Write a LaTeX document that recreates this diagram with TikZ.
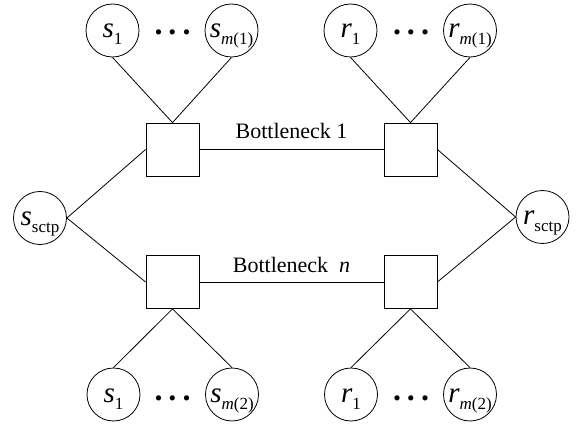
\documentclass[tikz,border=0pt]{standalone}
\usepackage{fontspec}
\setmainfont{Liberation Serif}
% host label: italic letter with an upright, lowered subscript
\newcommand\hostlbl[2]{\fontsize{29}{29}\selectfont\textit{#1}\raisebox{-7pt}{\fontsize{17}{17}\selectfont #2}}
% spaced ellipsis between hosts
\newcommand\hostdots{.\hspace{6pt}.\hspace{6pt}.}
\begin{document}
\begin{tikzpicture}[x=1pt,y=-1pt,
  host/.style={circle,draw,line width=0.8pt,minimum size=53pt,inner sep=0pt,text height=15pt,text depth=0pt},
  router/.style={rectangle,draw,line width=0.8pt,minimum size=53pt,inner sep=0pt},
  link/.style={line width=0.8pt},
  hdots/.style={font=\fontsize{32}{32}\selectfont\bfseries,anchor=base,inner sep=0pt},
  bneck/.style={font=\fontsize{22}{22}\selectfont,anchor=base,inner sep=0pt}]
\useasboundingbox (0,0) rectangle (579,428);

% routers
\node[router] (ra) at (172.5,149.5) {};
\node[router] (rb) at (410.5,149.5) {};
\node[router] (rc) at (172.5,282) {};
\node[router] (rd) at (410.5,282) {};

% end hosts, upper group
\node[host] (s1a) at (112.5,30.5) {\hostlbl{s}{1}};
\node[host] (sma) at (231.5,30.5) {\hostlbl{s}{\textit{m}(1)}};
\node[host] (r1a) at (350.5,30.5) {\hostlbl{r}{1}};
\node[host] (rma) at (470,30.5) {\hostlbl{r}{\textit{m}(1)}};

% end hosts, lower group
\node[host] (s1b) at (113.5,394.5) {\hostlbl{s}{1}};
\node[host] (smb) at (232,394.5) {\hostlbl{s}{\textit{m}(2)}};
\node[host] (r1b) at (351,394.5) {\hostlbl{r}{1}};
\node[host] (rmb) at (470,394.5) {\hostlbl{r}{\textit{m}(2)}};

% SCTP endpoints
\node[host] (ssctp) at (40,218) {\hostlbl{s}{sctp}};
\node[host] (rsctp) at (542.5,217) {\hostlbl{r}{sctp}};

% ellipses
\node[hdots] (d1) at (172.5,35) {\hostdots};
\node[hdots] (d2) at (411,35) {\hostdots};
\node[hdots] (d3) at (172.5,400) {\hostdots};
\node[hdots] (d4) at (411,400) {\hostdots};

% bottleneck labels
\node[bneck] (b1) at (291.5,139) {Bottleneck 1};
\node[bneck] (bn) at (291.5,272) {Bottleneck~~\textit{n}};

% links
\draw[link] (s1a.south) -- (ra.north);
\draw[link] (sma.south) -- (ra.north);
\draw[link] (r1a.south) -- (rb.north);
\draw[link] (rma.south) -- (rb.north);
\draw[link] (rc.south) -- (s1b.north);
\draw[link] (rc.south) -- (smb.north);
\draw[link] (rd.south) -- (r1b.north);
\draw[link] (rd.south) -- (rmb.north);
\draw[link] (ra.east) -- (rb.west);
\draw[link] (rc.east) -- (rd.west);
\draw[link] (ssctp.east) -- (ra.west);
\draw[link] (ssctp.east) -- (rc.west);
\draw[link] (rb.east) -- (rsctp.west);
\draw[link] (rd.east) -- (rsctp.west);
\end{tikzpicture}
\end{document}
